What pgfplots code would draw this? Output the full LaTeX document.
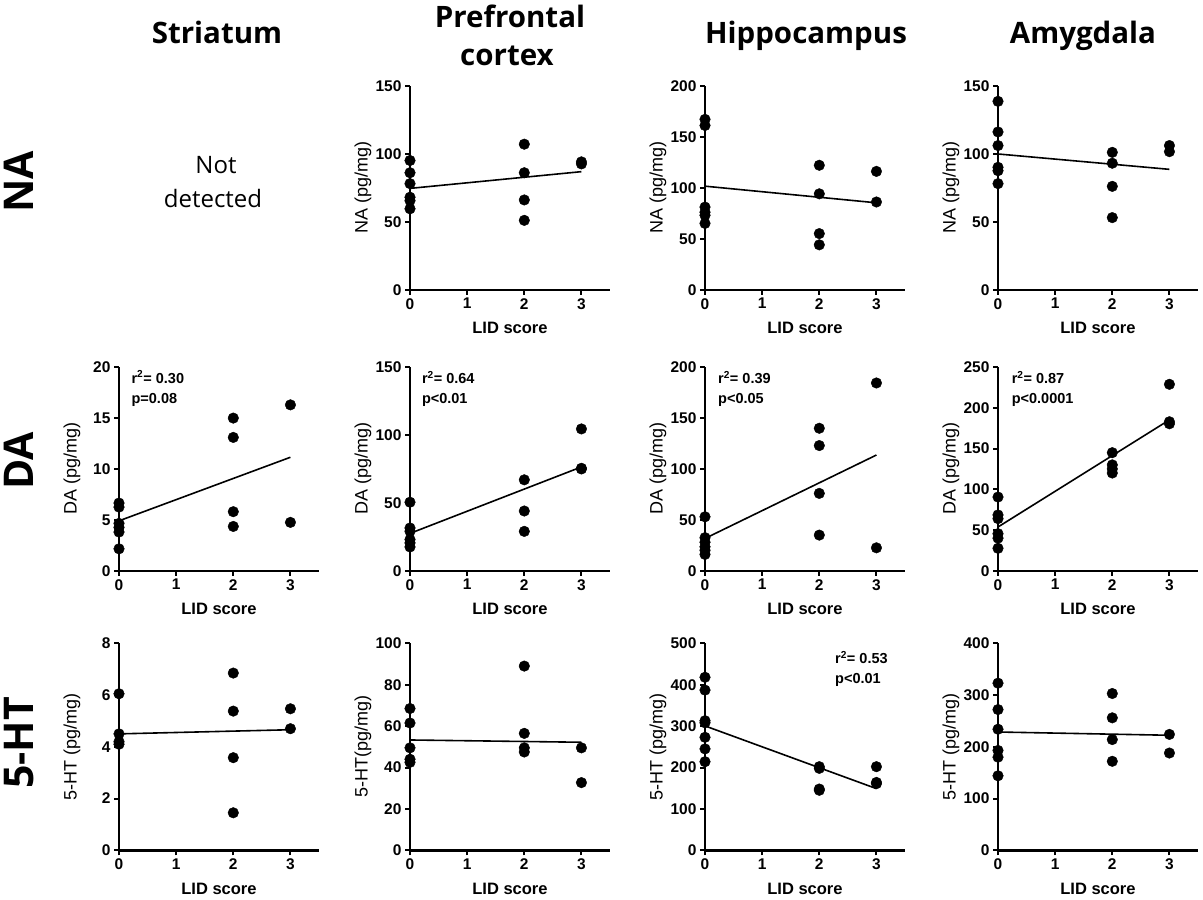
\documentclass[border=0pt]{standalone}
\usepackage{fontspec}
\setmainfont{Liberation Sans}
\newfontfamily\titlefont{Open Sans}
\usepackage{pgfplots}
\pgfplotsset{compat=1.18}
\pgfplotsset{
  panel/.style={
    scale only axis, width=200pt, height=204pt,
    xmin=0, xmax=3.5, ymin=0,
    axis x line*=bottom, axis y line*=left,
    axis line style={-, line width=2.4pt, black},
    xtick={0,1,2,3},
    tick align=outside,
    major tick length=5pt,
    every tick/.style={black, line width=2pt},
    /pgf/number format/assume math mode=true,
    ticklabel style={font=\fontsize{15.5}{16}\selectfont\bfseries},
    xlabel={LID score},
    every axis x label/.style={at={(rel axis cs:0.5,-0.186)}, anchor=center, font=\fontsize{16.5}{18}\selectfont\bfseries},
    every axis y label/.style={at={(rel axis cs:-0.235,0.5)}, anchor=center, rotate=90, font=\fontsize{18}{20}\selectfont},
    clip=false,
  },
  fitl/.style={black, line width=1.6pt, no marks},
  pts/.style={only marks, mark=*, mark size=5.3pt, black},
}
\tikzset{anno/.style={anchor=north west, align=left, inner sep=0pt, font=\fontsize{14.5}{20}\selectfont\bfseries}}
\begin{document}
\begin{tikzpicture}
\path[use as bounding box] (0pt,0pt) rectangle (1203pt,-900pt);
% titles
\tikzset{ttl/.style={anchor=base, font={\fontsize{29.5}{34}\selectfont\titlefont\bfseries}}}
\node[ttl] at (217pt,-43pt) {Striatum};
\node[ttl] at (510pt,-27pt) {Prefrontal};
\node[ttl] at (507pt,-65pt) {cortex};
\node[ttl] at (806pt,-43pt) {Hippocampus};
\node[ttl] at (1083pt,-43pt) {Amygdala};
% row labels
\tikzset{rowl/.style={anchor=center, rotate=90, font={\fontsize{41}{44}\selectfont\titlefont\bfseries}}}
\node[rowl] at (19pt,-182pt) {NA};
\node[rowl] at (19pt,-461pt) {DA};
\node[rowl] at (19pt,-743pt) {5-HT};
% not detected
\node[anchor=base, font={\fontsize{24}{30}\selectfont\titlefont}] at (216pt,-173pt) {Not};
\node[anchor=base, font={\fontsize{24}{30}\selectfont\titlefont}] at (213pt,-207pt) {detected};

% ---------- Row 1: NA ----------
\begin{axis}[panel, at={(410pt,-289.7pt)}, anchor=south west, height=204pt,
  ymax=150, ytick={0,50,100,150}, ylabel={NA (pg/mg)}]
\addplot[pts] coordinates {(0,95) (0,86) (0,78) (0,68) (0,65.5) (0,59.5)
  (2,107) (2,86) (2,66) (2,51) (3,94) (3,92.5)};
\addplot[fitl] coordinates {(0,74.5) (3,86.8)};
\end{axis}
\begin{axis}[panel, at={(705pt,-289.7pt)}, anchor=south west, height=204pt,
  ymax=200, ytick={0,50,100,150,200}, ylabel={NA (pg/mg)}]
\addplot[pts] coordinates {(0,167) (0,161) (0,81) (0,76) (0,73) (0,65)
  (2,122) (2,94) (2,55) (2,44) (3,116) (3,86)};
\addplot[fitl] coordinates {(0,101.5) (3,85.2)};
\end{axis}
\begin{axis}[panel, at={(998pt,-289.7pt)}, anchor=south west, height=204pt,
  ymax=150, ytick={0,50,100,150}, ylabel={NA (pg/mg)}]
\addplot[pts] coordinates {(0,138.5) (0,116) (0,106) (0,90) (0,87.5) (0,78)
  (2,101) (2,93) (2,76) (2,53) (3,106) (3,101.5)};
\addplot[fitl] coordinates {(0,99.8) (3,88.5)};
\end{axis}

% ---------- Row 2: DA ----------
\begin{axis}[panel, at={(119pt,-570.7pt)}, anchor=south west, height=203.5pt,
  ymax=20, ytick={0,5,10,15,20}, ylabel={DA (pg/mg)}]
\addplot[pts] coordinates {(0,6.65) (0,6.25) (0,4.65) (0,4.25) (0,3.8) (0,2.15)
  (2,15) (2,13.1) (2,5.8) (2,4.35) (3,16.3) (3,4.75)};
\addplot[fitl] coordinates {(0,4.9) (3,11.15)};
\node[anno] at (rel axis cs:0.062,0.983) {r\textsuperscript{2}= 0.30\\p=0.08};
\end{axis}
\begin{axis}[panel, at={(410pt,-570.7pt)}, anchor=south west, height=203.5pt,
  ymax=150, ytick={0,50,100,150}, ylabel={DA (pg/mg)}]
\addplot[pts] coordinates {(0,50.5) (0,31.5) (0,29) (0,23) (0,20.5) (0,17.5)
  (2,67) (2,44) (2,29) (3,104.5) (3,75.5) (3,75)};
\addplot[fitl] coordinates {(0,27.5) (3,76.5)};
\node[anno] at (rel axis cs:0.059,0.98) {r\textsuperscript{2}= 0.64\\p<0.01};
\end{axis}
\begin{axis}[panel, at={(705pt,-570.7pt)}, anchor=south west, height=203.5pt,
  ymax=200, ytick={0,50,100,150,200}, ylabel={DA (pg/mg)}]
\addplot[pts] coordinates {(0,53) (0,32.5) (0,28) (0,23.5) (0,20) (0,16)
  (2,140) (2,123) (2,76) (2,35) (3,184.5) (3,22.5)};
\addplot[fitl] coordinates {(0,31.7) (3,113.7)};
\node[anno] at (rel axis cs:0.065,0.98) {r\textsuperscript{2}= 0.39\\p<0.05};
\end{axis}
\begin{axis}[panel, at={(998pt,-570.7pt)}, anchor=south west, height=203.5pt,
  ymax=250, ytick={0,50,100,150,200,250}, ylabel={DA (pg/mg)}]
\addplot[pts] coordinates {(0,90.5) (0,68.5) (0,64) (0,45.5) (0,40) (0,27.5)
  (2,145) (2,130) (2,125) (2,120) (3,229) (3,183) (3,180.5)};
\addplot[fitl] coordinates {(0,53.7) (3,185.3)};
\node[anno] at (rel axis cs:0.068,0.98) {r\textsuperscript{2}= 0.87\\p<0.0001};
\end{axis}

% ---------- Row 3: 5-HT ----------
\begin{axis}[panel, at={(119pt,-850.3pt)}, anchor=south west, height=207pt,
  ymax=8, ytick={0,2,4,6,8}, ylabel={5-HT (pg/mg)}]
\addplot[pts] coordinates {(0,6.05) (0,4.5) (0,4.2) (0,4.1)
  (2,6.85) (2,5.38) (2,3.58) (2,1.45) (3,5.47) (3,4.7)};
\addplot[fitl] coordinates {(0,4.5) (3,4.66)};
\end{axis}
\begin{axis}[panel, at={(410pt,-850.3pt)}, anchor=south west, height=207pt,
  ymax=100, ytick={0,20,40,60,80,100}, ylabel={5-HT(pg/mg)}]
\addplot[pts] coordinates {(0,68.5) (0,61.5) (0,49.5) (0,44) (0,42.5)
  (2,89) (2,56.5) (2,49.5) (2,47.5) (3,49.5) (3,32.7)};
\addplot[fitl] coordinates {(0,53.3) (3,52.2)};
\end{axis}
\begin{axis}[panel, at={(705pt,-850.3pt)}, anchor=south west, height=207pt,
  ymax=500, ytick={0,100,200,300,400,500}, ylabel={5-HT (pg/mg)}]
\addplot[pts] coordinates {(0,418) (0,387) (0,313) (0,308) (0,273) (0,245) (0,214)
  (2,202) (2,198) (2,145) (2,148) (3,202) (3,164) (3,161)};
\addplot[fitl] coordinates {(0,300.5) (3,149)};
\node[anno] at (rel axis cs:0.65,0.963) {r\textsuperscript{2}= 0.53\\p<0.01};
\end{axis}
\begin{axis}[panel, at={(998pt,-850.3pt)}, anchor=south west, height=207pt,
  ymax=400, ytick={0,100,200,300,400}, ylabel={5-HT (pg/mg)}]
\addplot[pts] coordinates {(0,323) (0,272) (0,234) (0,193) (0,180) (0,144)
  (2,303) (2,256) (2,214) (2,172) (3,224) (3,188)};
\addplot[fitl] coordinates {(0,228.6) (3,222.3)};
\end{axis}
\end{tikzpicture}
\end{document}
